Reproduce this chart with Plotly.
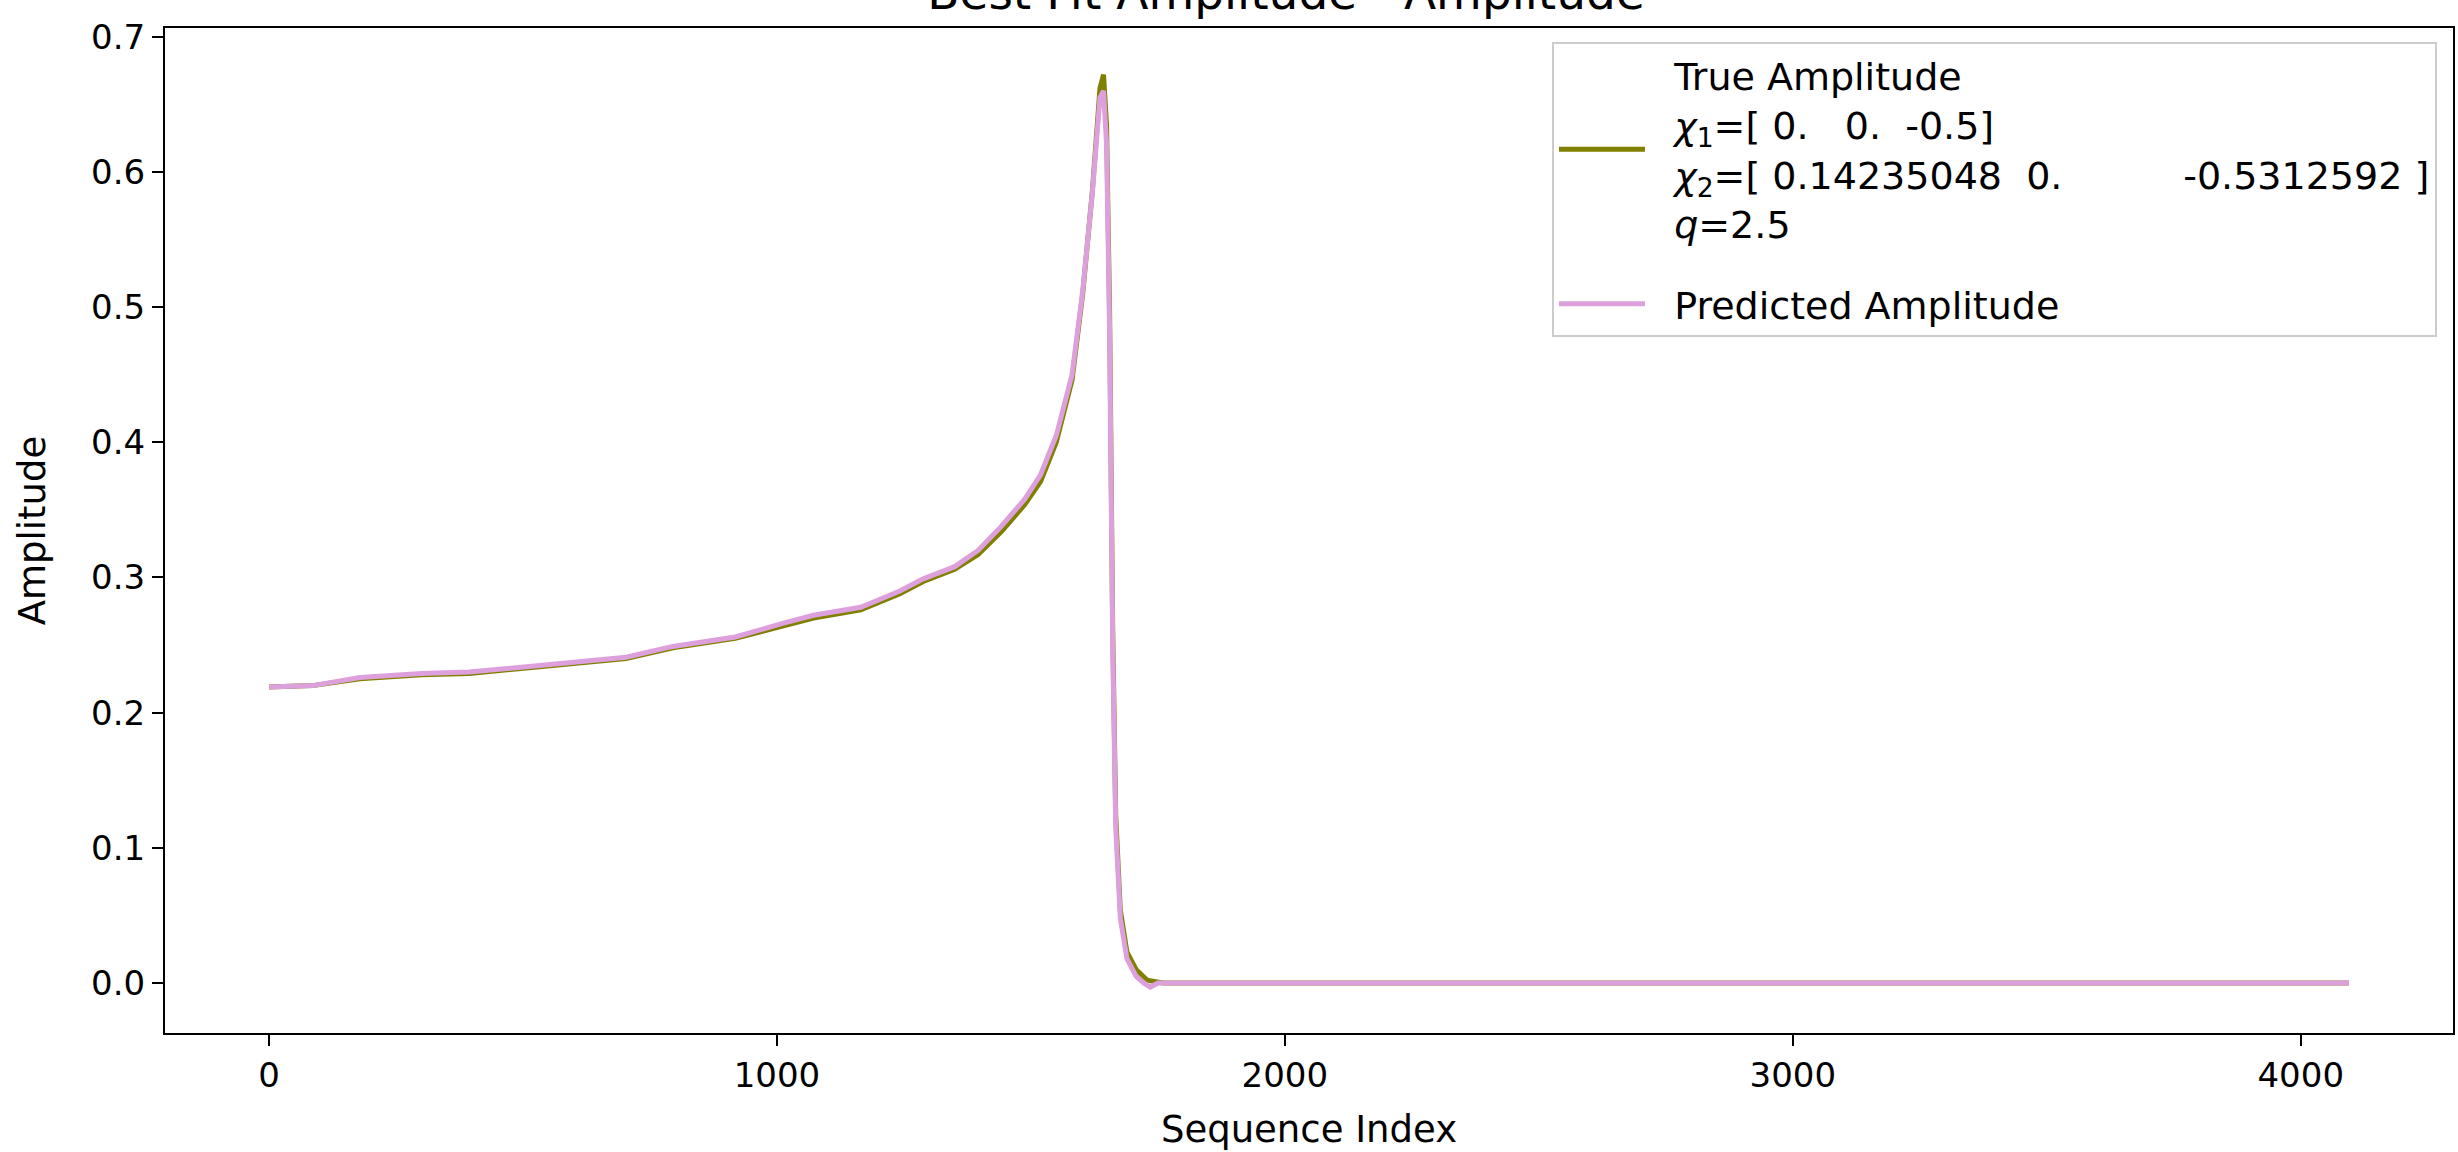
import plotly.graph_objects as go

# ---- data ----
true_index = [0, 86, 179, 300, 394, 500, 626, 703, 795, 918, 1011, 1072, 1165, 1242, 1288,
              1350, 1396, 1442, 1488, 1519, 1550, 1581, 1602, 1621, 1636, 1643, 1649, 1655,
              1661, 1667, 1676, 1689, 1707, 1729, 1760, 4095]
true_amp = [0.219, 0.220, 0.225, 0.228, 0.229, 0.233, 0.238, 0.240, 0.248, 0.255, 0.264, 0.270,
            0.276, 0.288, 0.297, 0.306, 0.317, 0.334, 0.354, 0.371, 0.400, 0.446, 0.510, 0.586,
            0.662, 0.672, 0.634, 0.495, 0.263, 0.124, 0.054, 0.023, 0.010, 0.002, 0.0, 0.0]

pred_index = [0, 86, 179, 300, 394, 500, 626, 703, 795, 918, 1011, 1072, 1165, 1242, 1288,
              1350, 1396, 1442, 1488, 1519, 1550, 1581, 1602, 1621, 1636, 1643, 1649, 1655,
              1661, 1667, 1676, 1689, 1707, 1722, 1735, 1750, 4095]
pred_amp = [0.219, 0.220, 0.226, 0.229, 0.230, 0.234, 0.239, 0.241, 0.249, 0.256, 0.266, 0.272,
            0.278, 0.290, 0.299, 0.308, 0.320, 0.338, 0.358, 0.376, 0.405, 0.450, 0.512, 0.585,
            0.655, 0.660, 0.620, 0.480, 0.250, 0.115, 0.048, 0.018, 0.005, 0.000, -0.003, 0.0, 0.0]

x_ticks = [0, 1000, 2000, 3000, 4000]
y_ticks = [0.0, 0.1, 0.2, 0.3, 0.4, 0.5, 0.6, 0.7]

NB = "\u00a0"
chi1 = "[" + NB + "0." + NB * 3 + "0." + NB * 2 + "-0.5]"
chi2 = "[" + NB + "0.14235048" + NB * 2 + "0." + NB * 10 + "-0.5312592" + NB + "]"
pre = NB * 2
true_label = (pre + "True Amplitude<br>" + pre + "<i>χ</i><sub>1</sub>=" + chi1 +
              "<br>" + pre + "<i>χ</i><sub>2</sub>=" + chi2 + "<br>" + pre + "<i>q</i>=2.5")
pred_label = pre + "Predicted Amplitude"

FONT = "DejaVu Sans"
TICK = 34
LAB = 37

fig = go.Figure()
fig.add_trace(go.Scatter(x=true_index, y=true_amp, mode="lines", name=true_label,
                         legendgroup="true", line=dict(color="#808000", width=5)))
fig.add_trace(go.Scatter(x=pred_index, y=pred_amp, mode="lines", name=pred_label,
                         legendgroup="pred", line=dict(color="#DDA0DD", width=5)))

axis_common = dict(showline=True, linecolor="black", linewidth=2, mirror=True,
                   ticks="outside", ticklen=11, tickwidth=2, tickcolor="black",
                   showgrid=False, zeroline=False,
                   tickfont=dict(family=FONT, size=TICK, color="black"))

fig.update_layout(
    width=2458, height=1152,
    margin=dict(l=165, r=3, t=28, b=119),
    paper_bgcolor="white", plot_bgcolor="white",
    font=dict(family=FONT, size=LAB, color="black"),
    title=dict(text="Best Fit Amplitude - Amplitude", x=0.5232, xanchor="center",
               yref="container", y=0.9925, yanchor="bottom",
               font=dict(family=FONT, size=47, color="black")),
    xaxis=dict(range=[-204.75, 4299.75], tickvals=x_ticks,
               ticktext=[str(v) for v in x_ticks],
               title=dict(text="Sequence Index", font=dict(family=FONT, size=LAB), standoff=22),
               **axis_common),
    yaxis=dict(range=[-0.037, 0.7065], tickvals=y_ticks,
               ticktext=[f"{v:.1f}" for v in y_ticks],
               title=dict(text="Amplitude", font=dict(family=FONT, size=LAB), standoff=34),
               **axis_common),
    legend=dict(x=0.993, y=0.986, xanchor="right", yanchor="top",
                bgcolor="rgba(255,255,255,0.8)", bordercolor="#cccccc", borderwidth=2,
                font=dict(family=FONT, size=38, color="black"),
                itemwidth=86, tracegroupgap=28),
    showlegend=True,
)

fig.write_html("out.html")
